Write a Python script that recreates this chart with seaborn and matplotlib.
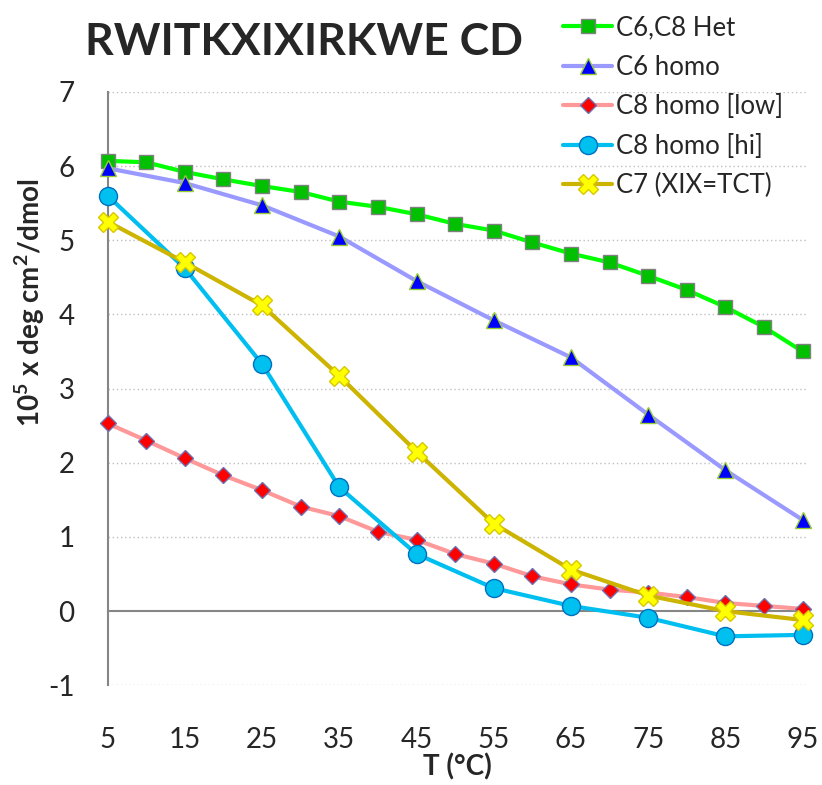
import numpy as np
import pandas as pd
import matplotlib
matplotlib.use("Agg")
import matplotlib.pyplot as plt
import seaborn as sns

# temperatures (deg C)
t_fine = [5, 10, 15, 20, 25, 30, 35, 40, 45, 50, 55, 60, 65, 70, 75, 80, 85, 90, 95]
t_coarse = [5, 15, 25, 35, 45, 55, 65, 75, 85, 95]

# CD signal, 10^5 deg cm2/dmol
het_c6c8 = [6.07, 6.05, 5.92, 5.82, 5.73, 5.65, 5.52, 5.45, 5.35, 5.22,
            5.13, 4.97, 4.82, 4.70, 4.52, 4.33, 4.10, 3.83, 3.50]
c6_homo = [5.97, 5.77, 5.47, 5.05, 4.45, 3.92, 3.42, 2.65, 1.90, 1.23]
c8_low = [2.53, 2.30, 2.06, 1.83, 1.63, 1.41, 1.28, 1.07, 0.96, 0.77,
          0.64, 0.47, 0.36, 0.29, 0.25, 0.19, 0.11, 0.07, 0.03]
c8_hi = [5.60, 4.62, 3.33, 1.67, 0.77, 0.31, 0.07, -0.09, -0.34, -0.32]
c7_tct = [5.25, 4.70, 4.12, 3.17, 2.15, 1.18, 0.56, 0.21, 0.00, -0.12]

x_ticks = [5, 15, 25, 35, 45, 55, 65, 75, 85, 95]
y_ticks = [-1, 0, 1, 2, 3, 4, 5, 6, 7]

sns.set_style("white")
plt.rcParams["font.family"] = ["Lato", "DejaVu Sans"]
plt.rcParams["mathtext.fontset"] = "custom"
plt.rcParams["mathtext.rm"] = "Lato"
plt.rcParams["mathtext.bf"] = "Lato:bold"

fig = plt.figure(figsize=(8.22, 7.85), dpi=100)
ax = fig.add_axes([0.131, 0.127, 0.851, 0.756])

series = [
    ("C6,C8 Het", t_fine, het_c6c8,
     dict(color="#00FF00", marker="s", markersize=10, markerfacecolor="#00C000",
          markeredgecolor="#808080", markeredgewidth=1)),
    ("C6 homo", t_coarse, c6_homo,
     dict(color="#9999FF", marker="^", markersize=12, markerfacecolor="#0000FF",
          markeredgecolor="#99CC33", markeredgewidth=1)),
    ("C8 homo [low]", t_fine, c8_low,
     dict(color="#FF9999", marker="D", markersize=8, markerfacecolor="#FF0000",
          markeredgecolor="#7070B0", markeredgewidth=1)),
    ("C8 homo [hi]", t_coarse, c8_hi,
     dict(color="#00BFF0", marker="o", markersize=13, markerfacecolor="#00C0F0",
          markeredgecolor="#0070C0", markeredgewidth=1)),
    ("C7 (XIX=TCT)", t_coarse, c7_tct,
     dict(color="#CCB400", marker="X", markersize=15, markerfacecolor="#FFFF00",
          markeredgecolor="#D8C800", markeredgewidth=1)),
]

for name, xs, ys, kw in series:
    df = pd.DataFrame({"T": xs, "CD": ys})
    sns.lineplot(data=df, x="T", y="CD", ax=ax, label=name, linewidth=3,
                 zorder=3, clip_on=False, **kw)

ax.set_xlim(5, 95.6)
ax.set_ylim(-1, 7)
ax.set_yticks(y_ticks)
ax.set_yticklabels([str(v) for v in y_ticks], fontsize=20)
for v in y_ticks:
    if v != 0:
        ax.axhline(v, color="#BFBFBF", linestyle=(0, (1, 2)), linewidth=1, zorder=1)

# x axis line crosses at y=0, labels at the bottom
ax.spines["bottom"].set_position(("data", 0))
ax.spines["bottom"].set_color("#868686")
ax.spines["bottom"].set_linewidth(1.5)
ax.spines["left"].set_color("#868686")
ax.spines["left"].set_linewidth(1.5)
ax.spines["left"].set_zorder(2)
ax.spines["top"].set_visible(False)
ax.spines["right"].set_visible(False)
ax.set_xticks(x_ticks)
ax.tick_params(axis="x", direction="out", length=8, width=1.5, color="#868686",
               labelbottom=False)
ax.tick_params(axis="y", direction="out", length=8, width=1.5, color="#868686",
               pad=16)
ax.set_xlabel("")
ax.set_ylabel("")

sec = ax.secondary_xaxis(0)
sec.set_xticks(x_ticks)
sec.set_xticklabels([str(v) for v in x_ticks], fontsize=20)
sec.tick_params(axis="x", length=0, pad=30)
sec.spines["bottom"].set_visible(False)
sec.set_xlabel("T (°C)", fontsize=20, fontweight="bold", labelpad=0)

fig.text(30 / 822, 1 - 303 / 785, r"10$^{\bf 5}$ x deg cm$^{\bf 2}$/dmol",
         rotation=90, ha="center", va="center", fontsize=20, fontweight="bold")
fig.text(85 / 822, 1 - 42 / 785, "RWITKXIXIRKWE CD", ha="left", va="center",
         fontsize=32, fontweight="bold")

ax.legend_.remove()
handles, labels = ax.get_legend_handles_labels()
fig.legend(handles, labels, loc="upper left", bbox_to_anchor=(548 / 822, 1.0),
           frameon=False, fontsize=18.5, handlelength=1.9, handletextpad=0.15,
           labelspacing=0.56, borderaxespad=0.2)

fig.savefig("out.png", dpi=100)
